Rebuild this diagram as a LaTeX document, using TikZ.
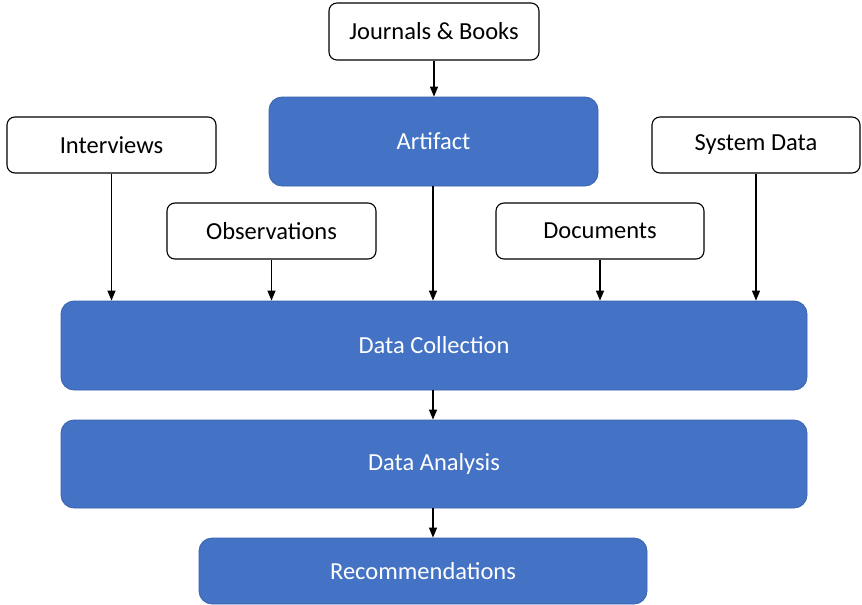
\documentclass[tikz,border=0pt]{standalone}
\usepackage{fontspec}
\setmainfont{Carlito}
\usetikzlibrary{arrows.meta}
\definecolor{boxblue}{HTML}{4472C4}
\definecolor{boxedge}{HTML}{3A63AE}
\tikzset{
  source/.style={draw=black, line width=1.1pt, fill=white, rounded corners=8pt,
    inner sep=0pt, font=\fontsize{24.5}{28}\selectfont, text=black},
  stage/.style={draw=boxedge, line width=0.8pt, fill=boxblue, rounded corners=13pt,
    inner sep=0pt, font=\fontsize{24.5}{28}\selectfont, text=white},
  flow/.style={line width=1.2pt, -{Triangle[length=10pt,width=8pt]}}
}
\begin{document}
\begin{tikzpicture}[x=1pt,y=-1pt]
\useasboundingbox (0,0) rectangle (862,605);
% sources
\node[source, minimum width=210, minimum height=57] (jb) at (434,31.5) {Journals \& Books};
\node[source, minimum width=209, minimum height=56] (int) at (111.5,145) {Interviews};
\node[source, minimum width=208, minimum height=56] (sys) at (756,145) {System Data};
\node[source, minimum width=209, minimum height=56] (obs) at (271.5,231) {Observations};
\node[source, minimum width=208, minimum height=56] (doc) at (600,231) {Documents};
% stages
\node[stage, minimum width=329, minimum height=89] (art) at (433.5,141.5) {Artifact};
\node[stage, minimum width=746, minimum height=89] (col) at (434,345.5) {Data Collection};
\node[stage, minimum width=746, minimum height=88] (ana) at (434,464) {Data Analysis};
\node[stage, minimum width=448, minimum height=66] (rec) at (423,571) {Recommendations};
% connectors
\draw[flow] (jb.south -| 434,0) -- (art.north -| 434,0);
\draw[flow] (int) -- (int |- col.north);
\draw[flow] (obs) -- (obs |- col.north);
\draw[flow] (art.south -| 433,0) -- (col.north -| 433,0);
\draw[flow] (doc) -- (doc |- col.north);
\draw[flow] (sys) -- (sys |- col.north);
\draw[flow] (col.south -| 433,0) -- (ana.north -| 433,0);
\draw[flow] (ana.south -| 433,0) -- (rec.north -| 433,0);
\end{tikzpicture}
\end{document}
